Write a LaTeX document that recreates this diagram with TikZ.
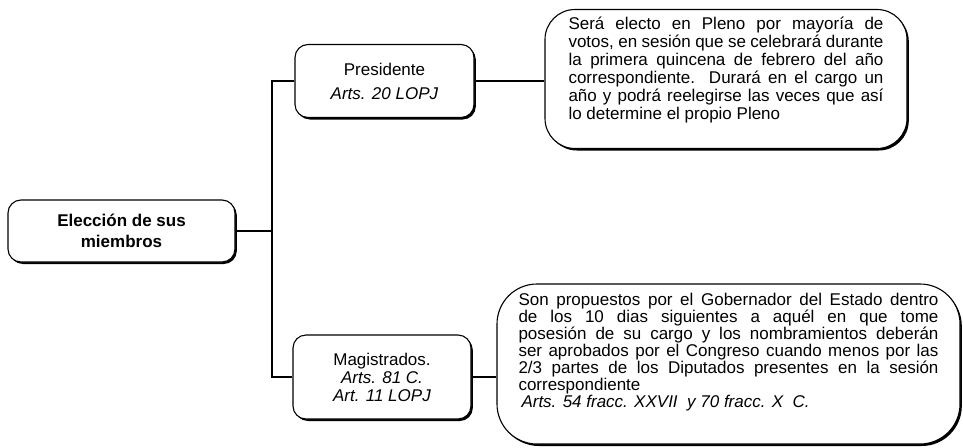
\documentclass[tikz,border=0pt]{standalone}
\usepackage{fontspec}
\setmainfont{Liberation Sans}
\usepackage{tikz}
\usetikzlibrary{shadows,positioning}

\newcommand{\jline}[1]{\makebox[\linewidth][s]{#1}\\}

\begin{document}
\begin{tikzpicture}[x=1pt,y=-1pt,
    box/.style={rectangle,draw,line width=1.1pt,fill=white,rounded corners=13pt,inner sep=0pt,align=center,
      font=\fontsize{17}{18}\selectfont,
      drop shadow={shadow xshift=1.8pt,shadow yshift=-2pt,fill=black,opacity=1}},
    bigbox/.style={box,rounded corners=30pt},
    link/.style={line width=1.1pt}]
    \useasboundingbox (0,0) rectangle (963,447);

    \node[box,font=\fontsize{17}{21}\selectfont\bfseries,minimum width=227pt,minimum height=62pt] (elec) at (121.5,231) {Elección de sus\\miembros};
    \node[box,minimum width=179pt,minimum height=73pt] (pres) at (384.5,81) {Presidente\\[6pt]\textit{Arts. 20 LOPJ}};
    \node[box,minimum width=178pt,minimum height=84pt] (mag) at (382,377) {Magistrados.\\\textit{Arts. 81 C.}\\\textit{Art. 11 LOPJ}};
    \node[bigbox,minimum width=362pt,minimum height=139pt] (presinfo) at (726,79) {\parbox[c][124pt][t]{315pt}{%
      \jline{Será electo en Pleno por mayoría de}
      \jline{votos, en sesión que se celebrará durante}
      \jline{la primera quincena de febrero del año}
      \jline{correspondiente. Durará en el cargo un}
      \jline{año y podrá reelegirse las veces que así}
      lo determine el propio Pleno}};
    \node[bigbox,rounded corners=40pt,minimum width=463pt,minimum height=160pt] (maginfo) at (728.5,364) {\parbox[c][142pt][t]{420pt}{%
      \fontsize{17}{17}\selectfont
      \jline{Son propuestos por el Gobernador del Estado dentro}
      \jline{de los 10 dias siguientes a aquél en que tome}
      \jline{posesión de su cargo y los nombramientos deberán}
      \jline{ser aprobados por el Congreso cuando menos por las}
      \jline{2/3 partes de los Diputados presentes en la sesión}
      correspondiente\\
      \hspace*{3pt}\textit{Arts. 54 fracc. XXVII~ y 70 fracc. X~ C.}}};

    \coordinate (spine) at (272,231);
    \draw[link] (elec.east) -- (spine);
    \draw[link] (pres.west) -| (spine) |- (mag.west);
    \draw[link] (pres.east) -- (pres.east -| presinfo.west);
    \draw[link] (mag.east) -- (mag.east -| maginfo.west);
  \end{tikzpicture}
\end{document}
